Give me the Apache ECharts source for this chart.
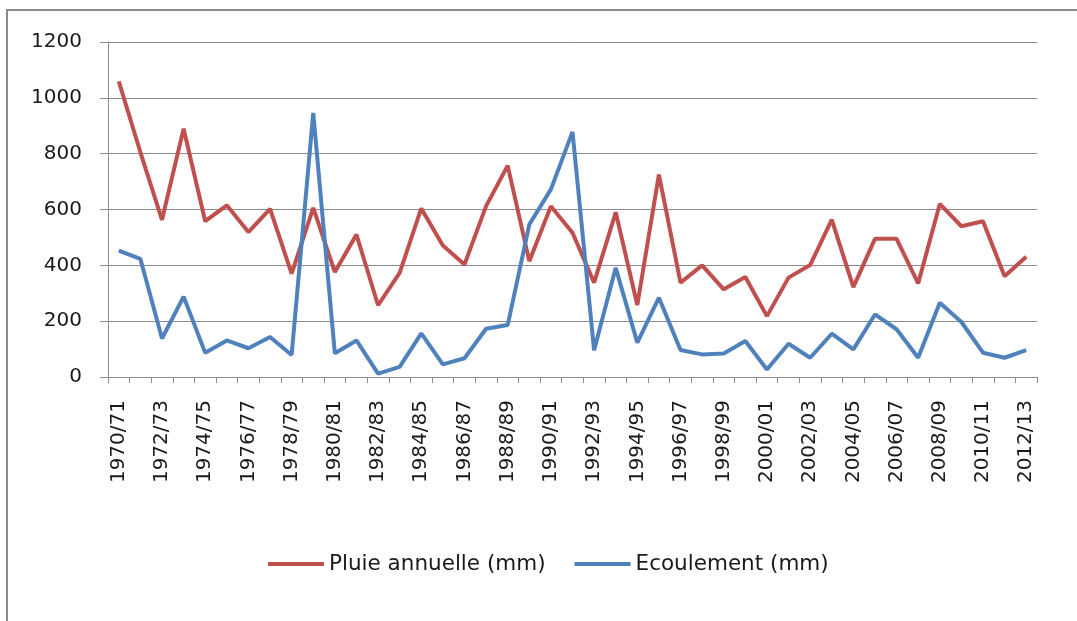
<!DOCTYPE html>
<html>
<head>
<meta charset="utf-8">
<script src="https://cdn.jsdelivr.net/npm/echarts@6/dist/echarts.min.js"></script>
<style>
  html, body { margin: 0; padding: 0; background: #fff; }
  #chart { width: 1077px; height: 621px; }
</style>
</head>
<body>
<div id="chart"></div>
<script>
const seasons = [
  '1970/71', '1971/72', '1972/73', '1973/74', '1974/75', '1975/76', '1976/77', '1977/78',
  '1978/79', '1979/80', '1980/81', '1981/82', '1982/83', '1983/84', '1984/85', '1985/86',
  '1986/87', '1987/88', '1988/89', '1989/90', '1990/91', '1991/92', '1992/93', '1993/94',
  '1994/95', '1995/96', '1996/97', '1997/98', '1998/99', '1999/00', '2000/01', '2001/02',
  '2002/03', '2003/04', '2004/05', '2005/06', '2006/07', '2007/08', '2008/09', '2009/10',
  '2010/11', '2011/12', '2012/13'
];

// Pluie annuelle (mm)
const pluie = [
  1059, 805, 563, 889, 558, 615, 519, 602, 370, 606, 376, 510, 257, 373, 604, 471,
  403, 612, 757, 415, 612, 517, 338, 590, 258, 725, 338, 400, 314, 358, 218, 356,
  401, 564, 322, 495, 495, 335, 620, 540, 558, 361, 431
];

// Ecoulement (mm)
const ecoulement = [
  453, 423, 138, 288, 87, 131, 103, 143, 79, 946, 85, 131, 12, 36, 156, 45,
  67, 173, 186, 546, 672, 878, 96, 391, 123, 284, 97, 81, 84, 129, 27, 119,
  69, 155, 99, 224, 171, 69, 266, 197, 87, 69, 96
];

const chart = echarts.init(document.getElementById('chart'));

const colors = {
  pluie: '#C0504D',
  ecoulement: '#4F81BD',
  grid: '#8c8c8c',
  frame: '#8a8a8a',
  text: '#1a1a1a'
};

const font = 'DejaVu Sans';

const option = {
  backgroundColor: '#ffffff',
  animation: false,
  // outer frame of the chart area (only top and left edges are visible)
  graphic: [
    {
      type: 'polyline',
      shape: { points: [[7, 640], [7, 10], [1100, 10]] },
      style: { fill: null, stroke: colors.frame, lineWidth: 2 },
      silent: true
    }
  ],
  grid: {
    left: 108,
    right: 40,
    top: 42,
    bottom: 244,
    containLabel: false
  },
  legend: {
    left: 263,
    top: 548,
    icon: 'rect',
    itemWidth: 56,
    itemHeight: 4,
    itemGap: 29,
    textStyle: { color: colors.text, fontFamily: font, fontSize: 21.5 },
    data: ['Pluie annuelle (mm)', 'Ecoulement (mm)']
  },
  xAxis: {
    type: 'category',
    data: seasons,
    boundaryGap: true,
    axisLine: { lineStyle: { color: colors.grid, width: 1 } },
    axisTick: { show: true, interval: 0, length: 6, lineStyle: { color: colors.grid } },
    axisLabel: {
      interval: 1,
      rotate: 90,
      margin: 23,
      color: colors.text,
      fontFamily: font,
      fontSize: 20
    },
    splitLine: { show: false }
  },
  yAxis: {
    type: 'value',
    min: 0,
    max: 1200,
    interval: 200,
    axisLine: { show: true, lineStyle: { color: colors.grid, width: 1 } },
    axisTick: { show: true, length: 8, lineStyle: { color: colors.grid } },
    axisLabel: {
      margin: 26,
      color: colors.text,
      fontFamily: font,
      fontSize: 20,
      formatter: (v) => String(v)
    },
    splitLine: { lineStyle: { color: colors.grid, width: 1 } }
  },
  series: [
    {
      name: 'Pluie annuelle (mm)',
      type: 'line',
      data: pluie,
      symbol: 'none',
      lineStyle: { color: colors.pluie, width: 4 },
      itemStyle: { color: colors.pluie },
      z: 3
    },
    {
      name: 'Ecoulement (mm)',
      type: 'line',
      data: ecoulement,
      symbol: 'none',
      lineStyle: { color: colors.ecoulement, width: 4 },
      itemStyle: { color: colors.ecoulement },
      z: 4
    }
  ]
};

chart.setOption(option);
</script>
</body>
</html>
